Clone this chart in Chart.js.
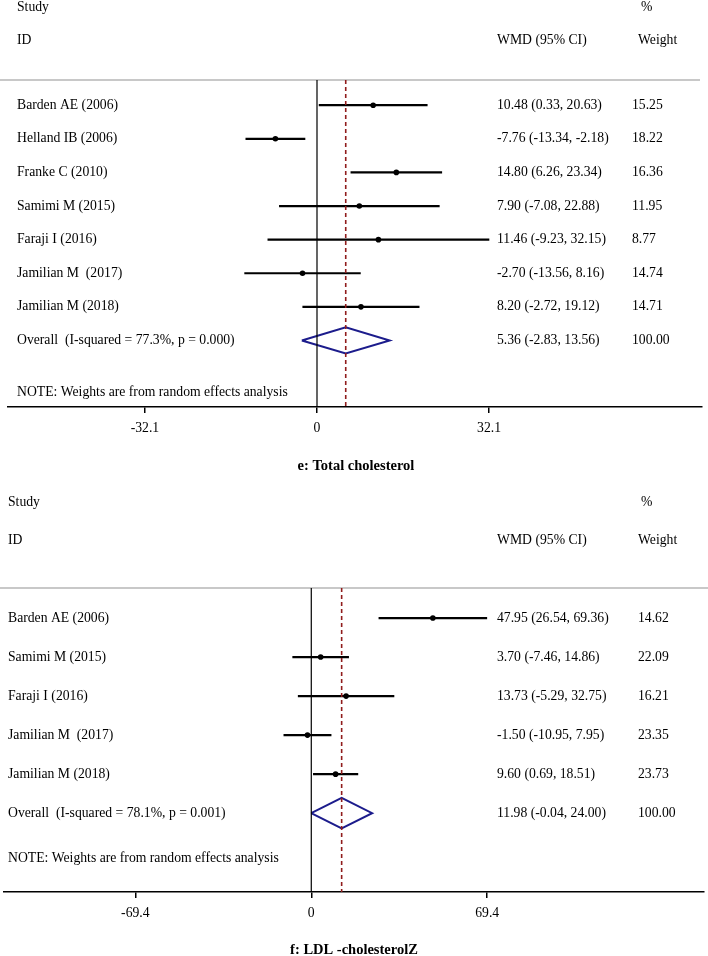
<!DOCTYPE html>
<html>
<head>
<meta charset="utf-8">
<script src="https://cdn.jsdelivr.net/npm/chart.js@4.4.1/dist/chart.umd.min.js"></script>
<style>
  html, body { margin: 0; padding: 0; background: #fff; }
  #wrap { position: relative; width: 708px; height: 956px; }
  canvas { position: absolute; left: 0; }
</style>
</head>
<body>
<div id="wrap">
  <canvas id="tcChart" width="708" height="485" style="top:0"></canvas>
  <canvas id="ldlChart" width="708" height="471" style="top:485px"></canvas>
</div>
<script>
// === Data: e) Total cholesterol ===
const tcStudies = ["Barden AE (2006)", "Helland IB (2006)", "Franke C (2010)", "Samimi M (2015)",
  "Faraji I (2016)", "Jamilian M  (2017)", "Jamilian M (2018)"];
const tcEst = [10.48, -7.76, 14.80, 7.90, 11.46, -2.70, 8.20];
const tcLow = [0.33, -13.34, 6.26, -7.08, -9.23, -13.56, -2.72];
const tcHigh = [20.63, -2.18, 23.34, 22.88, 32.15, 8.16, 19.12];
const tcWeight = [15.25, 18.22, 16.36, 11.95, 8.77, 14.74, 14.71];
const tcOverall = [5.36, -2.83, 13.56];
const tcOverallLabel = "Overall  (I-squared = 77.3%, p = 0.000)";
const tcTicks = [-32.1, 0, 32.1];

// === Data: f) LDL cholesterol ===
const ldlStudies = ["Barden AE (2006)", "Samimi M (2015)", "Faraji I (2016)",
  "Jamilian M  (2017)", "Jamilian M (2018)"];
const ldlEst = [47.95, 3.70, 13.73, -1.50, 9.60];
const ldlLow = [26.54, -7.46, -5.29, -10.95, 0.69];
const ldlHigh = [69.36, 14.86, 32.75, 7.95, 18.51];
const ldlWeight = [14.62, 22.09, 16.21, 23.35, 23.73];
const ldlOverall = [11.98, -0.04, 24.00];
const ldlOverallLabel = "Overall  (I-squared = 78.1%, p = 0.001)";
const ldlTicks = [-69.4, 0, 69.4];

const FONT = "Liberation Serif, Times New Roman, serif";
const BODY_SIZE = 13.7;

function fmtCI(e, l, h) {
  return e.toFixed(2) + " (" + l.toFixed(2) + ", " + h.toFixed(2) + ")";
}

// === Plugin: header, gray rule, text columns, note, caption ===
const forestText = {
  id: "forestText",
  beforeDatasetsDraw(chart, args, o) {
    const ctx = chart.ctx;
    ctx.save();
    ctx.strokeStyle = "#c8c8c8";
    ctx.lineWidth = 2;
    ctx.beginPath();
    ctx.moveTo(0, chart.chartArea.top);
    ctx.lineTo(o.ruleRight, chart.chartArea.top);
    ctx.stroke();
    ctx.restore();
  },
  afterDraw(chart, args, o) {
    const ctx = chart.ctx;
    const y = chart.scales.y;
    ctx.save();
    ctx.fillStyle = "#000";
    ctx.textBaseline = "middle";
    ctx.textAlign = "left";
    ctx.font = BODY_SIZE + "px " + FONT;
    ctx.fillText("Study", o.textX, o.headY1);
    ctx.fillText("ID", o.textX, o.headY2);
    ctx.fillText("%", o.pctX, o.headY1);
    ctx.fillText("WMD (95% CI)", o.effX, o.headY2);
    ctx.fillText("Weight", o.pctX - 3, o.headY2);
    o.labels.forEach((lab, i) => {
      const py = y.getPixelForValue(i + 1);
      ctx.fillText(lab, o.textX, py);
      ctx.fillText(fmtCI(o.est[i], o.lo[i], o.hi[i]), o.effX, py);
      ctx.fillText(o.weight[i].toFixed(2), o.wX, py);
    });
    const oy = y.getPixelForValue(o.labels.length + 1);
    ctx.fillText(o.overallLabel, o.textX, oy);
    ctx.fillText(fmtCI(o.overall[0], o.overall[1], o.overall[2]), o.effX, oy);
    ctx.fillText((100).toFixed(2), o.wX, oy);
    ctx.fillText("NOTE: Weights are from random effects analysis", o.textX, y.getPixelForValue(o.noteRow));
    ctx.font = "bold 14.5px " + FONT;
    ctx.textAlign = "center";
    ctx.fillText(o.title, o.titleX, o.titleY);
    ctx.restore();
  },
};

function buildDatasets(est, lo, hi, overall, yMin, yMax) {
  const n = est.length;
  const sets = [];
  sets.push({ data: [{ x: 0, y: yMin }, { x: 0, y: yMax }], showLine: true,
    borderColor: "#000", borderWidth: 1.2, pointRadius: 0 });
  sets.push({ data: [{ x: overall[0], y: yMin }, { x: overall[0], y: yMax }], showLine: true,
    borderColor: "#901c1c", borderWidth: 1.6, borderDash: [4, 3], pointRadius: 0 });
  for (let i = 0; i < n; i++) {
    sets.push({ data: [{ x: lo[i], y: i + 1 }, { x: hi[i], y: i + 1 }], showLine: true,
      borderColor: "#000", borderWidth: 2.2, pointRadius: 0 });
  }
  sets.push({ data: est.map((v, i) => ({ x: v, y: i + 1 })), showLine: false,
    pointRadius: 2.8, backgroundColor: "#000", borderWidth: 0 });
  const r = n + 1, h = 0.39;
  sets.push({
    data: [{ x: overall[1], y: r }, { x: overall[0], y: r - h }, { x: overall[2], y: r },
      { x: overall[0], y: r + h }, { x: overall[1], y: r }],
    showLine: true, borderColor: "#1c1c8c", borderWidth: 2, pointRadius: 0, tension: 0,
  });
  return sets;
}

function makeForest(id, d) {
  const ctx = document.getElementById(id).getContext("2d");
  return new Chart(ctx, {
    type: "scatter",
    data: { datasets: buildDatasets(d.est, d.lo, d.hi, d.overall, d.yMin, d.yMax) },
    options: {
      responsive: false,
      animation: false,
      layout: { padding: d.pad },
      plugins: {
        legend: { display: false },
        tooltip: { enabled: false },
        forestText: d.text,
      },
      scales: {
        x: {
          type: "linear",
          min: d.xMin,
          max: d.xMax,
          afterBuildTicks: (s) => { s.ticks = d.ticks.map((v) => ({ value: v })); },
          afterFit: (s) => { s.height = 30; },
          ticks: {
            color: "#000",
            font: { family: FONT, size: BODY_SIZE },
            padding: 7,
            maxRotation: 0,
            autoSkip: false,
            callback: (v) => String(v),
          },
          grid: { drawOnChartArea: false, drawTicks: true, tickLength: 6, color: "#000", lineWidth: 1.5 },
          border: { display: true, color: "#000", width: 1.6 },
        },
        y: { type: "linear", reverse: true, min: d.yMin, max: d.yMax, display: false },
      },
    },
    plugins: [forestText],
  });
}

makeForest("tcChart", {
  est: tcEst, lo: tcLow, hi: tcHigh, overall: tcOverall, ticks: tcTicks,
  xMin: -57.65, xMax: 71.83, yMin: 0.25, yMax: 9.98,
  pad: { top: 80, bottom: 48, left: 8, right: 6 },
  text: {
    labels: tcStudies, est: tcEst, lo: tcLow, hi: tcHigh, weight: tcWeight,
    overall: tcOverall, overallLabel: tcOverallLabel, noteRow: 9.54,
    title: "e: Total cholesterol", titleX: 356, titleY: 466,
    textX: 17, effX: 497, wX: 632, pctX: 641, headY1: 7, headY2: 40, ruleRight: 700,
  },
});

makeForest("ldlChart", {
  est: ldlEst, lo: ldlLow, hi: ldlHigh, overall: ldlOverall, ticks: ldlTicks,
  xMin: -121.2, xMax: 154.9, yMin: 0.23, yMax: 8.02,
  pad: { top: 103, bottom: 34, left: 2, right: 2 },
  text: {
    labels: ldlStudies, est: ldlEst, lo: ldlLow, hi: ldlHigh, weight: ldlWeight,
    overall: ldlOverall, overallLabel: ldlOverallLabel, noteRow: 7.15,
    title: "f: LDL -cholesterolZ", titleX: 354, titleY: 465,
    textX: 8, effX: 497, wX: 638, pctX: 641, headY1: 17, headY2: 55, ruleRight: 708,
  },
});
</script>
</body>
</html>
